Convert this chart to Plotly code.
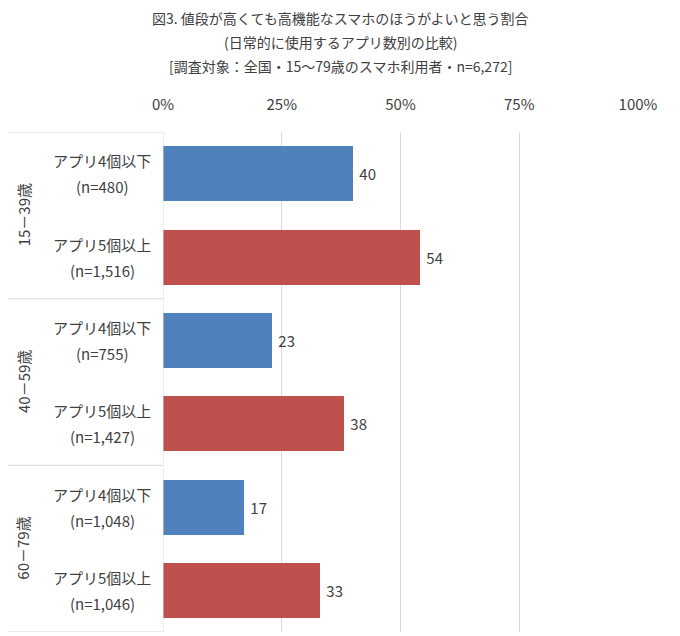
import plotly.graph_objects as go

title_lines = ["図3. 値段が高くても高機能なスマホのほうがよいと思う割合",
               "(日常的に使用するアプリ数別の比較)",
               "[調査対象：全国・15～79歳のスマホ利用者・n=6,272]"]
groups = ["15－39歳", "40－59歳", "60－79歳"]
cat_line1 = ["アプリ4個以下", "アプリ5個以上", "アプリ4個以下", "アプリ5個以上",
             "アプリ4個以下", "アプリ5個以上"]
cat_line2 = ["(n=480)", "(n=1,516)", "(n=755)", "(n=1,427)", "(n=1,048)", "(n=1,046)"]
values = [40, 54, 23, 38, 17, 33]
colors = ["#4F81BD", "#C0504D", "#4F81BD", "#C0504D", "#4F81BD", "#C0504D"]
xticks = [0, 25, 50, 75, 100]

FONT = "Noto Sans CJK JP"
TXT = "#404040"
OFF = 8  # page body margin
W, H = 680 - OFF, 636 - OFF
# plot area in page pixels: x 163..638, y 132..632
ML, MR, MT, MB = 163 - OFF, W - (638 - OFF), 132 - OFF, H - (632 - OFF)
PW, PH = W - ML - MR, H - MT - MB


def px_x(px):
    return (px - OFF - ML) / PW


def px_y(py):
    return (H - MB - (py - OFF)) / PH


positions = list(range(len(values)))

fig = go.Figure()
fig.add_trace(go.Bar(
    x=values, y=positions, orientation="h",
    marker=dict(color=colors, line=dict(width=0)),
    width=0.66,
    text=[f" {v}" for v in values], textposition="outside",
    textfont=dict(size=15, color=TXT, family=FONT),
    cliponaxis=False, showlegend=False,
))

fig.update_layout(
    width=W, height=H,
    margin=dict(l=ML, r=MR, t=MT, b=MB, autoexpand=False),
    paper_bgcolor="white", plot_bgcolor="white",
    font=dict(family=FONT, color=TXT),
    xaxis=dict(
        side="top", range=[0, 100], tickvals=xticks,
        ticktext=[f"{t}%" for t in xticks],
        showgrid=True, gridcolor="#D9D9D9", gridwidth=1,
        zeroline=False, showline=False, ticks="",
        ticklabelstandoff=18,
        tickfont=dict(size=15, color=TXT, family=FONT),
        fixedrange=True, automargin=False,
    ),
    yaxis=dict(
        range=[len(values) - 0.5, -0.5], tickvals=positions,
        showticklabels=False, showgrid=False,
        zeroline=False, showline=False, ticks="", automargin=False,
    ),
    bargap=0,
)

# title lines
for i, t in enumerate(title_lines):
    fig.add_annotation(x=px_x(340), xref="paper", xanchor="center",
                       y=px_y(18 + 24 * i), yref="paper", yanchor="middle",
                       text=t, showarrow=False,
                       font=dict(size=14, color=TXT, family=FONT))

# category labels
for p, l1, l2 in zip(positions, cat_line1, cat_line2):
    fig.add_annotation(x=px_x(102), xref="paper", y=p, yref="y", text=l1,
                       showarrow=False, xanchor="center", yshift=13,
                       font=dict(size=15, color=TXT, family=FONT))
    fig.add_annotation(x=px_x(102), xref="paper", y=p, yref="y", text=l2,
                       showarrow=False, xanchor="center", yshift=-13,
                       font=dict(size=15, color=TXT, family=FONT))

# group labels (rotated) and separators
n_per = 2
for gi, g in enumerate(groups):
    center = gi * n_per + (n_per - 1) / 2
    fig.add_annotation(x=px_x(23), xref="paper", xanchor="center",
                       y=center, yref="y", yanchor="middle", text=g,
                       showarrow=False, textangle=-90,
                       font=dict(size=15, color=TXT, family=FONT))
for b in range(len(groups) + 1):
    yb = b * n_per - 0.5
    fig.add_shape(type="line", xref="paper", yref="y",
                  x0=px_x(8), x1=0, y0=yb, y1=yb,
                  line=dict(color="#D9D9D9", width=1))

# 0% axis line
fig.add_shape(type="line", xref="x", yref="paper", x0=0, x1=0, y0=0, y1=1,
              line=dict(color="#D9D9D9", width=1))

fig.write_html("out.html")
